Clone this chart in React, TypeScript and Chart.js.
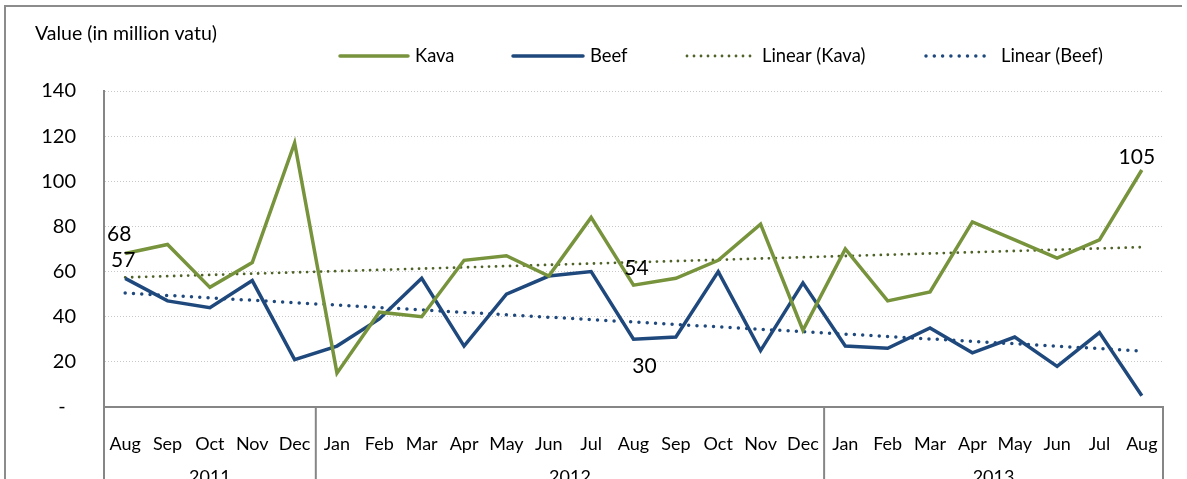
import React, { useEffect, useRef } from 'react';
import { Chart, registerables } from 'chart.js';

Chart.register(...registerables);

// ---- Data ----
const monthLabels = ['Aug', 'Sep', 'Oct', 'Nov', 'Dec', 'Jan', 'Feb', 'Mar', 'Apr', 'May', 'Jun', 'Jul', 'Aug', 'Sep', 'Oct', 'Nov', 'Dec', 'Jan', 'Feb', 'Mar', 'Apr', 'May', 'Jun', 'Jul', 'Aug'];
const yearLabels = ['2011', '2012', '2013'];
const monthsPerYear = [5, 12, 8];
const kavaValues = [68, 72, 53, 64, 117, 15, 42, 40, 65, 67, 58, 84, 54, 57, 65, 81, 34, 70, 47, 51, 82, 74, 66, 74, 105];
const beefValues = [57, 47, 44, 56, 21, 27, 39, 57, 27, 50, 58, 60, 30, 31, 60, 25, 55, 27, 26, 35, 24, 31, 18, 33, 5];
const kavaTrendEnds = [57.4, 70.8];
const beefTrendEnds = [50.5, 24.8];
const yTickValues = [0, 20, 40, 60, 80, 100, 120, 140];
const seriesNames = ['Kava', 'Beef', 'Linear (Kava)', 'Linear (Beef)'];
const yTitle = 'Value (in million vatu)';

const trendSeries = (ends: number[]) =>
  monthLabels.map((_, i) => (i === 0 ? ends[0] : i === monthLabels.length - 1 ? ends[1] : null));

// label placements (dataset index, point index, offsets)
const dataLabelSpecs = [
  { ds: 0, i: 0, dx: -6, dy: -19 },
  { ds: 1, i: 0, dx: -2, dy: -18 },
  { ds: 0, i: 12, dx: 3, dy: -17 },
  { ds: 1, i: 12, dx: 11, dy: 27 },
  { ds: 0, i: 24, dx: -5, dy: -13 },
];

const legendSpots = [
  { x1: 340, x2: 408, tx: 415 },
  { x1: 513, x2: 583, tx: 590 },
  { x1: 687, x2: 755, tx: 762 },
  { x1: 926, x2: 992, tx: 1001 },
];

const FONT = 'Lato, "Open Sans", sans-serif';
const AXIS_GRAY = '#868686';

const decorPlugin = {
  id: 'decor',
  afterDraw(chart: any) {
    const { ctx, chartArea, scales } = chart;
    const xs = scales.x;
    const H = chart.height;
    ctx.save();
    // outer frame
    ctx.strokeStyle = '#8c8c8c';
    ctx.lineWidth = 2;
    ctx.beginPath();
    ctx.moveTo(5, H);
    ctx.lineTo(5, 6);
    ctx.lineTo(1182, 6);
    ctx.stroke();

    // category group separators
    const step = xs.getPixelForValue(1) - xs.getPixelForValue(0);
    ctx.strokeStyle = AXIS_GRAY;
    ctx.lineWidth = 2;
    let idx = 0;
    const bounds: number[] = [xs.getPixelForValue(0) - step / 2];
    monthsPerYear.forEach((n) => {
      idx += n;
      bounds.push(xs.getPixelForValue(idx - 1) + step / 2);
    });
    bounds.forEach((bx) => {
      ctx.beginPath();
      ctx.moveTo(bx, chartArea.bottom);
      ctx.lineTo(bx, H);
      ctx.stroke();
    });

    // year labels
    ctx.fillStyle = '#000';
    ctx.font = `18px ${FONT}`;
    ctx.textAlign = 'center';
    ctx.textBaseline = 'middle';
    yearLabels.forEach((y, k) => {
      ctx.fillText(y, (bounds[k] + bounds[k + 1]) / 2, 477);
    });

    // y title
    ctx.textAlign = 'left';
    ctx.font = `19.5px ${FONT}`;
    ctx.fillText(yTitle, 35, 34);

    // legend
    chart.data.datasets.forEach((ds: any, k: number) => {
      const s = legendSpots[k];
      ctx.save();
      ctx.strokeStyle = ds.borderColor;
      ctx.lineWidth = ds.borderWidth;
      ctx.lineCap = 'round';
      ctx.setLineDash(ds.borderDash || []);
      ctx.beginPath();
      ctx.moveTo(s.x1, 56);
      ctx.lineTo(s.x2, 56);
      ctx.stroke();
      ctx.restore();
      ctx.fillStyle = '#000';
      ctx.font = `18.4px ${FONT}`;
      ctx.textAlign = 'left';
      ctx.textBaseline = 'middle';
      ctx.fillText(ds.label, s.tx, 56);
    });

    // data labels
    ctx.font = `21px ${FONT}`;
    ctx.textAlign = 'center';
    ctx.textBaseline = 'middle';
    ctx.fillStyle = '#000';
    dataLabelSpecs.forEach((sp) => {
      const meta = chart.getDatasetMeta(sp.ds);
      const pt = meta.data[sp.i];
      const v = chart.data.datasets[sp.ds].data[sp.i];
      ctx.fillText(String(v), pt.x + sp.dx, pt.y + sp.dy);
    });
    ctx.restore();
  },
};

export default function App() {
  const ref = useRef<HTMLCanvasElement | null>(null);
  useEffect(() => {
    if (!ref.current) return;
    const chart = new Chart(ref.current, {
      type: 'line',
      data: {
        labels: monthLabels,
        datasets: [
          {
            label: seriesNames[0],
            data: kavaValues,
            borderColor: '#77933C',
            borderWidth: 3.5,
            pointRadius: 0,
            tension: 0,
          },
          {
            label: seriesNames[1],
            data: beefValues,
            borderColor: '#1F497D',
            borderWidth: 3.5,
            pointRadius: 0,
            tension: 0,
          },
          {
            label: seriesNames[2],
            data: trendSeries(kavaTrendEnds),
            borderColor: '#4F6228',
            borderWidth: 2.8,
            borderDash: [0, 7],
            borderCapStyle: 'round',
            pointRadius: 0,
            spanGaps: true,
          },
          {
            label: seriesNames[3],
            data: trendSeries(beefTrendEnds),
            borderColor: '#1F497D',
            borderWidth: 3.5,
            borderDash: [0, 8.3],
            borderCapStyle: 'round',
            pointRadius: 0,
            spanGaps: true,
          },
        ] as any,
      },
      options: {
        animation: false,
        responsive: false,
        events: [],
        layout: { padding: { left: 0, top: 91, right: 24, bottom: 0 } },
        plugins: {
          legend: { display: false },
          title: { display: false },
          tooltip: { enabled: false },
        },
        scales: {
          x: {
            type: 'category',
            offset: true,
            grid: { display: false },
            border: { display: true, color: AXIS_GRAY, width: 2 },
            ticks: {
              autoSkip: false,
              maxRotation: 0,
              padding: 18,
              color: '#000',
              font: { family: FONT, size: 18 },
            },
            afterFit: (s: any) => {
              s.height = 72;
            },
          },
          y: {
            min: 0,
            max: 140,
            afterBuildTicks: (s: any) => {
              s.ticks = yTickValues.map((v) => ({ value: v }));
            },
            grid: {
              color: (c: any) => (c.tick && c.tick.value === 0 ? 'rgba(0,0,0,0)' : '#C8C8C8'),
              lineWidth: 1,
              drawTicks: false,
            } as any,
            border: { display: true, color: AXIS_GRAY, width: 2, dash: [1, 2] } as any,
            ticks: {
              padding: 28,
              color: '#000',
              font: { family: FONT, size: 20 },
              callback: (v: any) => (Number(v) === 0 ? '-  ' : String(v)),
            },
            afterFit: (s: any) => {
              s.width = 104;
            },
          },
        },
      },
      plugins: [decorPlugin],
    });
    return () => chart.destroy();
  }, []);
  return (
    <div style={{ position: 'absolute', left: 0, top: 0, width: 1187, height: 479 }}>
      <canvas ref={ref} width={1187} height={479} />
    </div>
  );
}
